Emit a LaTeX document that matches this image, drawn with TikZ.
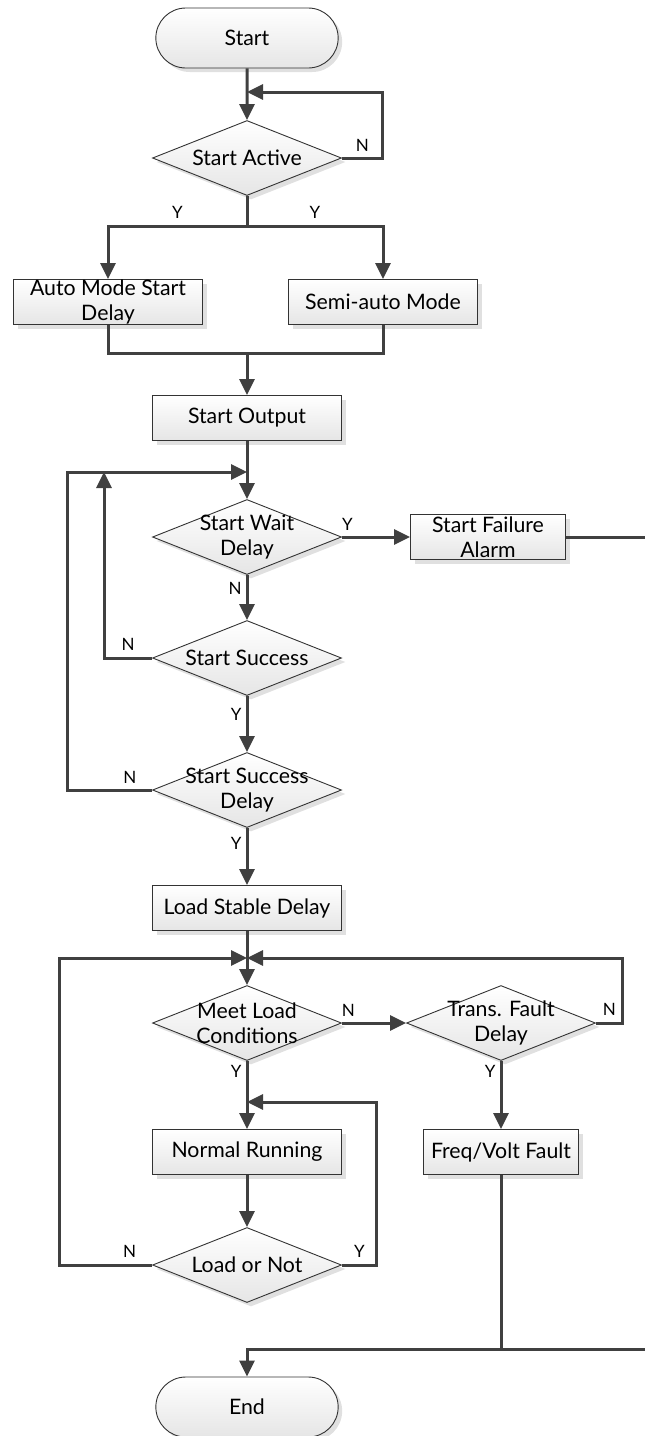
\documentclass[tikz,border=0pt]{standalone}
\usepackage{fontspec}
\setmainfont{Lato}
\usetikzlibrary{shapes.geometric,shapes.misc,positioning,arrows.meta,shadows}

\begin{document}
\begin{tikzpicture}[x=1pt, y=-1pt, >={Triangle[length=16pt,width=15pt]},
  font=\fontsize{21.3}{25}\selectfont,
  flow/.style={draw=black!80, line width=0.9pt, top color=white, bottom color=black!10,
    drop shadow={shadow xshift=4pt, shadow yshift=-4pt, fill=black!12, opacity=1}},
  term/.style={flow, rounded rectangle, minimum width=189pt, minimum height=60pt},
  proc/.style={flow, rectangle, align=center, inner sep=0pt, minimum width=189pt, minimum height=45pt},
  decision/.style={flow, diamond, inner sep=0pt, minimum width=189pt, minimum height=75pt},
  line/.style={draw=black!75, line width=3pt},
  yn/.style={font=\fontsize{17}{17}\selectfont, inner sep=2pt}]

  \useasboundingbox (0,0) rectangle (645,1436);
  \clip (0,0) rectangle (645,1436);

  \node[term] (start) at (247,38) {Start};
  \node[decision, label={center:Start Active}, below of=start, node distance=120pt] (active) {};
  \node[proc] (auto) at (108,302) {Auto Mode Start\\Delay};
  \node[proc] (semi) at (383,302) {Semi-auto Mode};
  \node[proc] (output) at (247,418) {Start Output};
  \node[decision, label={[align=center]center:Start Wait\\Delay}, below of=output, node distance=119pt] (wait) {};
  \node[proc, minimum width=155pt, right of=wait, node distance=241pt] (fail) {Start Failure\\Alarm};
  \node[decision, label={center:Start Success}, below of=wait, node distance=121pt] (succ) {};
  \node[decision, label={[align=center]center:Start Success\\Delay}, below of=succ, node distance=132pt] (sdelay) {};
  \node[proc, below of=sdelay, node distance=118pt] (stable) {Load Stable Delay};
  \node[decision, label={[align=center]center:Meet Load\\Conditions}, below of=stable, node distance=115pt] (meet) {};
  \node[decision, label={[align=center]center:Trans. Fault\\Delay}, right of=meet, node distance=254pt] (trans) {};
  \node[proc, below of=meet, node distance=129pt] (normal) {Normal Running};
  \node[proc, minimum width=155pt, below of=trans, node distance=129pt] (fault) {Freq/Volt Fault};
  \node[decision, label={center:Load or Not}, below of=normal, node distance=113pt] (loadq) {};
  \node[term, below of=loadq, node distance=142pt] (stop) {End};

  \coordinate (actback) at (247,92);
  \coordinate (split) at (247,226);
  \coordinate (merge) at (247,353);
  \coordinate (retry) at (247,472);
  \coordinate (retryup) at (104,472);
  \coordinate (recheck) at (247,958);
  \coordinate (keeprun) at (247,1102);
  \coordinate (rt) at (652,1349);

  \draw[line,->] (start) -- (active);
  \draw[line,->] (active.east) -- node[yn, above=3pt] {N} ++(41,0) |- (actback);
  \draw[line] (active.south) -- (split);
  \draw[line,->] (split) -| node[yn, pos=0.25, above=4pt] {Y} (auto);
  \draw[line,->] (split) -| node[yn, pos=0.25, above=4pt] {Y} (semi);
  \draw[line] (auto) |- (merge);
  \draw[line] (semi) |- (merge);
  \draw[line,->] (merge) -- (output);
  \draw[line,->] (output) -- (wait);
  \draw[line,->] (wait) -- node[yn, pos=0.08, above=3pt] {Y} (fail);
  \draw[line] (fail) -| (rt);
  \draw[line,->] (rt) -| (stop);
  \draw[line,->] (wait) -- node[yn, pos=0.3, left=2pt] {N} (succ);
  \draw[line,->] (succ.west) -- node[yn, above=4pt] {N} (succ.west -| retryup) -- (retryup);
  \draw[line,->] (succ) -- node[yn, pos=0.33, left=2pt] {Y} (sdelay);
  \draw[line,->] (sdelay.west) -- node[yn, pos=0.26, above=3pt] {N} ++(-85,0) |- (retry);
  \draw[line,->] (sdelay) -- node[yn, pos=0.27, left=2pt, fill=white] {Y} (stable);
  \draw[line,->] (stable) -- (meet);
  \draw[line,->] (meet) -- node[yn, pos=0.1, above=3pt] {N} (trans);
  \draw[line,->] (trans.east) -- node[yn, above=4pt] {N} ++(27,0) |- (recheck);
  \draw[line,->] (loadq.west) -- node[yn, pos=0.24, above=4pt] {N} ++(-93,0) |- (recheck);
  \draw[line,->] (meet) -- node[yn, pos=0.15, left=2pt] {Y} (normal);
  \draw[line,->] (loadq.east) -- node[yn, above=4pt] {Y} ++(35,0) |- (keeprun);
  \draw[line,->] (trans) -- node[yn, pos=0.15, left=2pt] {Y} (fault);
  \draw[line,->] (normal) -- (loadq);
  \draw[line] (fault) -- (fault |- rt);
\end{tikzpicture}
\end{document}
